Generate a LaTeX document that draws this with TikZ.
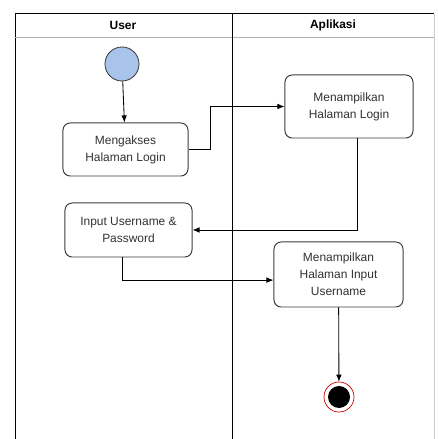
\documentclass[tikz,border=0pt]{standalone}
\usepackage{fontspec}
\setmainfont{Liberation Sans}
\usetikzlibrary{arrows.meta}

\definecolor{startblue}{RGB}{169,196,235}
\definecolor{linegray}{RGB}{60,60,60}
\definecolor{textgray}{RGB}{50,50,50}

\tikzset{
  activity/.style={draw=linegray, line width=0.7pt, rounded corners=0.18cm, fill=white,
    align=center, text=textgray, font=\fontsize{8.5}{12}\selectfont, inner sep=2pt},
  flow/.style={draw=black, line width=0.6pt, -{Latex[length=5pt,width=4pt]}},
  lane/.style={line width=0.7pt, draw=black}
}

\begin{document}
\begin{tikzpicture}[x=0.025cm, y=0.025cm]
  \useasboundingbox (0,0) rectangle (437,439);
  {\fontsize{8.5}{12}\selectfont

  % Swimlanes
  \fill [white] (0,0) rectangle (437,439);%
  \draw [lane] (15,0) -- (15,425) -- (434,425);%
  \draw [draw=gray!40, line width=0.5pt] (434,425) -- (434,0);%
  \draw [draw=gray!60, line width=0.6pt] (15,402) -- (434,402);%
  \draw [lane, line width=0.6pt] (232,425) -- (232,0);%
  \node (userhead) at (123,413.5) {\bfseries User};%
  \node (apphead) at (333,413.5) {\bfseries Aplikasi};%

  % Start state
  \node [circle, draw=linegray, line width=0.6pt, fill=startblue, minimum size=0.85cm, inner sep=0pt] (start) at (122,375) {};%

  % Activities
  \node [activity, minimum width=3.125cm, minimum height=1.325cm] (akses) at (125.5,289.5) {Mengakses\\Halaman Login};%
  \node [activity, minimum width=3.2cm, minimum height=1.575cm] (login) at (349,332.5) {Menampilkan\\Halaman Login};%
  \node [activity, minimum width=3.175cm, minimum height=1.35cm] (input) at (128.5,209) {Input Username \&\\Password};%
  \node [activity, minimum width=3.225cm, minimum height=1.625cm] (form) at (338.5,164.5) {Menampilkan\\Halaman Input\\Username};%

  % End state
  \node [circle, draw=red!80!black, line width=0.5pt, fill=white, minimum size=0.75cm, inner sep=0pt] (finish) at (339,42) {};%
  \node [circle, fill=black, minimum size=0.55cm, inner sep=0pt] (finishdot) at (finish) {};%

  % Flows
  \draw [flow] (start) -- (akses);%
  \draw [flow] (akses.east) -- ++(22,0) |- (login.west);%
  \draw [flow] ([xshift=0.2cm]login.south) |- (input.east);%
  \draw [flow] ([xshift=-0.14cm]input.south) |- ([yshift=-0.14cm]form.west);%
  \draw [flow] (form) -- (finish);%
  }
\end{tikzpicture}
\end{document}
